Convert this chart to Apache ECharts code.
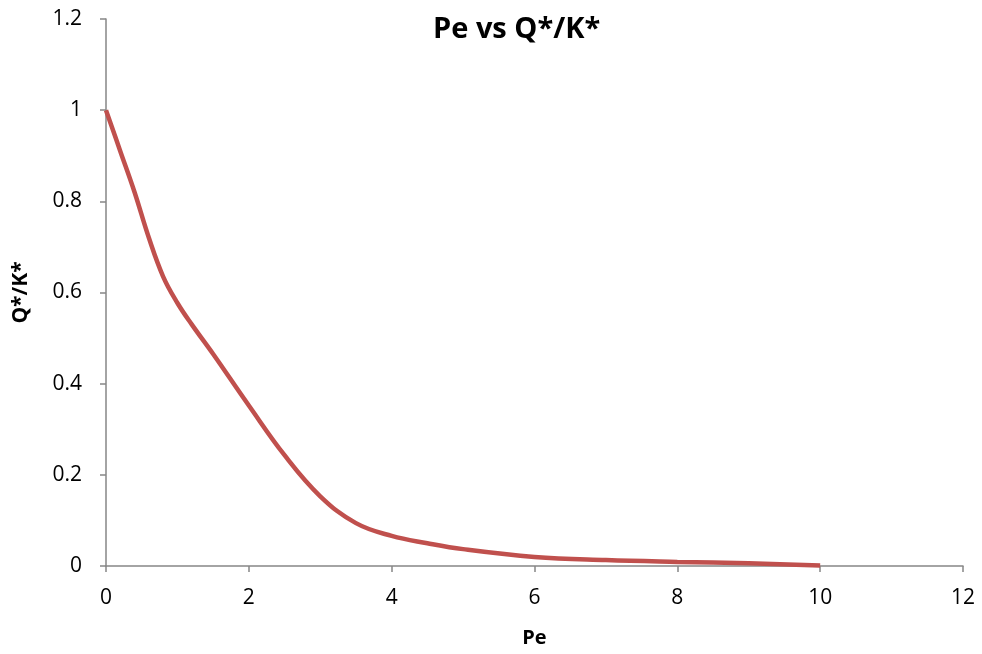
<!DOCTYPE html>
<html>
<head>
<meta charset="utf-8">
<script src="https://cdn.jsdelivr.net/npm/echarts@6/dist/echarts.min.js"></script>
<style>
  html, body { margin: 0; padding: 0; background: #fff; }
  #chart { width: 982px; height: 654px; }
</style>
</head>
<body>
<div id="chart"></div>
<script>
// 数据 - Pe 和 Q*/K*
var peValues = [0, 0.2, 0.4, 0.6, 0.8, 1.0, 1.2, 1.5, 2.0, 2.5, 3.0, 3.5, 4.0, 4.5, 5, 6, 7, 8, 9, 10];
var qkValues = [1.0, 0.91, 0.82, 0.72, 0.635, 0.577, 0.53, 0.465, 0.352, 0.243, 0.153, 0.094, 0.066, 0.05, 0.037, 0.02, 0.013, 0.009, 0.006, 0.001];

var axisColor = '#868686';
var fontFam = 'Open Sans, Noto Sans, sans-serif';

var chart = echarts.init(document.getElementById('chart'));

var points = [];
for (var i = 0; i < peValues.length; i++) {
    points.push([peValues[i], qkValues[i]]);
}

var option = {
    animation: false,
    backgroundColor: '#fff',
    title: {
        text: 'Pe vs Q*/K*',
        left: 428,
        top: 10,
        textStyle: { fontFamily: fontFam, fontSize: 29, fontWeight: 'bold', color: '#000' }
    },
    grid: { left: 106, right: 19, top: 19, bottom: 88 },
    xAxis: {
        type: 'value',
        min: 0, max: 12, interval: 2,
        name: 'Pe',
        nameLocation: 'middle',
        nameGap: 62,
        nameTextStyle: { fontFamily: fontFam, fontSize: 20, fontWeight: 'bold', color: '#000' },
        axisLine: { show: true, lineStyle: { color: axisColor, width: 1.5 } },
        axisTick: { show: true, length: 6, lineStyle: { color: axisColor, width: 1.5 } },
        axisLabel: { fontFamily: fontFam, fontSize: 21, color: '#000', margin: 22 },
        splitLine: { show: false }
    },
    yAxis: {
        type: 'value',
        min: 0, max: 1.2, interval: 0.2,
        name: 'Q*/K*',
        nameLocation: 'middle',
        nameGap: 74,
        nameRotate: 90,
        nameTextStyle: { fontFamily: fontFam, fontSize: 21, fontWeight: 'bold', color: '#000' },
        axisLine: { show: true, lineStyle: { color: axisColor, width: 1.5 } },
        axisTick: { show: true, length: 6, lineStyle: { color: axisColor, width: 1.5 } },
        axisLabel: {
            fontFamily: fontFam, fontSize: 21, color: '#000', margin: 24,
            formatter: function (v) { return String(Math.round(v * 10) / 10); }
        },
        splitLine: { show: false }
    },
    series: [{
        type: 'line',
        data: points,
        smooth: 0.4,
        showSymbol: false,
        lineStyle: { color: '#C0504D', width: 4.5 },
        itemStyle: { color: '#C0504D' }
    }]
};

chart.setOption(option);
</script>
</body>
</html>
